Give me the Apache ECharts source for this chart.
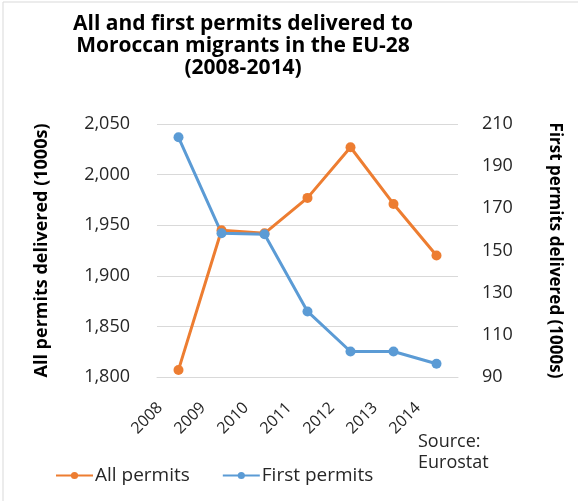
<!DOCTYPE html>
<html>
<head>
<meta charset="utf-8">
<script src="https://cdn.jsdelivr.net/npm/echarts@6/dist/echarts.min.js"></script>
<style>
  html, body { margin: 0; padding: 0; background: #fff; }
  #main { width: 578px; height: 501px; }
</style>
</head>
<body>
<div id="main"></div>
<script>
const years = ['2008', '2009', '2010', '2011', '2012', '2013', '2014']
const allPermits = [1807, 1945, 1942, 1977, 2027, 1971, 1920]
const firstPermits = [203.7, 158.2, 157.7, 121.1, 102.1, 102.1, 96.3]

const chart = echarts.init(document.getElementById('main'))
const font = '"Open Sans", sans-serif'
const textColor = '#262626'

const option = {
  animation: false,
  backgroundColor: '#fff',
  title: {
    text: 'All and first permits delivered to\nMoroccan migrants in the EU-28\n(2008-2014)',
    left: 238,
    top: 8,
    textAlign: 'center',
    textStyle: {
      fontFamily: font,
      fontSize: 21,
      fontWeight: 'bold',
      color: '#000',
      lineHeight: 22
    }
  },
  legend: {
    left: 50,
    top: 461,
    itemWidth: 37,
    itemHeight: 9,
    itemGap: 32,
    textStyle: { fontFamily: font, fontSize: 19, color: textColor, padding: [0, 0, 0, -3] },
    data: ['All permits', 'First permits']
  },
  grid: { left: 157, right: 120, top: 124, bottom: 124 },
  xAxis: {
    type: 'category',
    data: years,
    axisLine: { lineStyle: { color: '#d9d9d9' } },
    axisTick: { show: false },
    axisLabel: {
      rotate: 45,
      margin: 10,
      padding: [0, 26, 0, 0],
      fontFamily: font,
      fontSize: 16,
      color: textColor
    }
  },
  yAxis: [
    {
      type: 'value',
      min: 1800,
      max: 2050,
      interval: 50,
      name: 'All permits delivered (1000s)',
      nameLocation: 'middle',
      nameGap: 106,
      nameTextStyle: { fontFamily: font, fontSize: 18, fontWeight: 'bold', color: '#000' },
      splitLine: { lineStyle: { color: '#d9d9d9' } },
      axisLabel: {
        margin: 27,
        fontFamily: font,
        fontSize: 18,
        color: textColor,
        formatter: v => v.toLocaleString('en-US')
      }
    },
    {
      type: 'value',
      min: 90,
      max: 210,
      interval: 20,
      name: 'First permits delivered (1000s)',
      nameLocation: 'middle',
      nameRotate: -90,
      nameGap: 88,
      nameTextStyle: { fontFamily: font, fontSize: 17, fontWeight: 'bold', color: '#000' },
      splitLine: { show: false },
      axisLabel: {
        margin: 24,
        fontFamily: font,
        fontSize: 18,
        color: textColor
      }
    }
  ],
  series: [
    {
      name: 'All permits',
      type: 'line',
      yAxisIndex: 0,
      data: allPermits,
      symbol: 'circle',
      symbolSize: 10,
      lineStyle: { width: 3, color: '#ED7D31' },
      itemStyle: { color: '#ED7D31' }
    },
    {
      name: 'First permits',
      type: 'line',
      yAxisIndex: 1,
      data: firstPermits,
      symbol: 'circle',
      symbolSize: 10,
      lineStyle: { width: 3, color: '#5B9BD5' },
      itemStyle: { color: '#5B9BD5' }
    }
  ],
  graphic: [
    {
      type: 'rect',
      shape: { x: 3, y: 2, width: 600, height: 520 },
      style: { fill: 'none', stroke: '#d9d9d9', lineWidth: 1 },
      silent: true
    },
    {
      type: 'text',
      left: 418,
      top: 431,
      style: {
        text: 'Source:\nEurostat',
        font: '18px "Open Sans", sans-serif',
        lineHeight: 21,
        fill: textColor
      }
    }
  ]
}

chart.setOption(option)
</script>
</body>
</html>
